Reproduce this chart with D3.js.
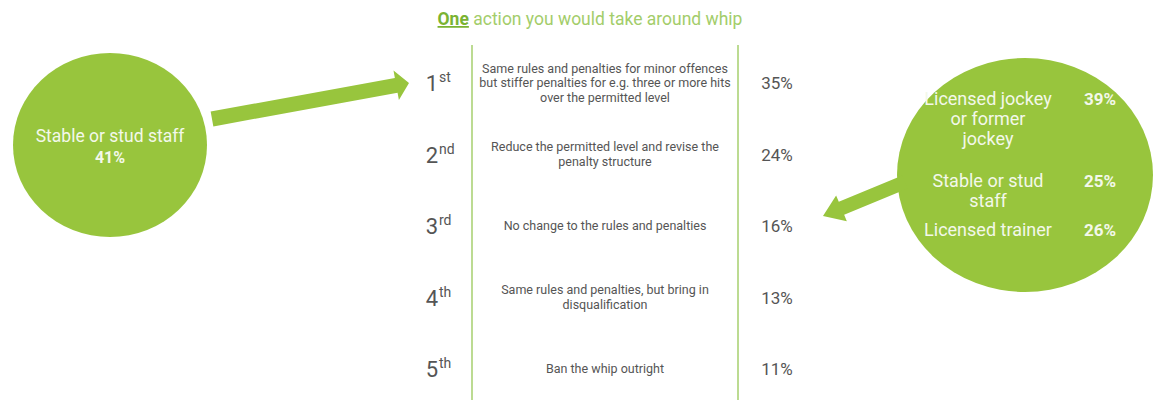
<!DOCTYPE html>
<html>
<head>
<meta charset="utf-8">
<script src="https://cdn.jsdelivr.net/npm/d3@7"></script>
<style>
  body { margin: 0; background: #fff; }
  text { font-family: Roboto, "Noto Sans", sans-serif; }
</style>
</head>
<body>
<div id="chart"></div>
<script>
// data
var ranks = ["1", "2", "3", "4", "5"];
var suffixes = ["st", "nd", "rd", "th", "th"];
var actions = [
  ["Same rules and penalties for minor offences", "but stiffer penalties for e.g. three or more hits", "over the permitted level"],
  ["Reduce the permitted level and revise the", "penalty structure"],
  ["No change to the rules and penalties"],
  ["Same rules and penalties, but bring in", "disqualification"],
  ["Ban the whip outright"]
];
var shares = [35, 24, 16, 13, 11];

var leftGroup = "Stable or stud staff";
var leftShare = 41;

var rightGroups = [["Licensed jockey", "or former", "jockey"], ["Stable or stud", "staff"], ["Licensed trainer"]];
var rightShares = [39, 25, 26];
var rightBaselines = [105, 187, 236];

var width = 1153, height = 400;
var green = "#98c53d", lineGreen = "#bcdb92", grey = "#555";

var svg = d3.select("#chart").append("svg")
    .attr("width", width)
    .attr("height", height);

// rows
var y = d3.scalePoint()
    .domain(ranks)
    .range([83, 369]);

var leftLine = 472, rightLine = 738;

// title
var title = svg.append("text")
    .attr("x", 590)
    .attr("y", 25)
    .attr("text-anchor", "middle")
    .style("font-size", "17.5px");
title.append("tspan")
    .text("One")
    .style("font-weight", "bold")
    .style("text-decoration", "underline")
    .style("fill", "#7ab332");
title.append("tspan")
    .text(" action you would take around whip")
    .style("fill", "#a3cd6a");

// the two vertical rules
svg.selectAll(".rule")
    .data([leftLine, rightLine])
  .enter().append("line")
    .attr("class", "rule")
    .attr("x1", function(d) { return d; })
    .attr("x2", function(d) { return d; })
    .attr("y1", 45)
    .attr("y2", height)
    .style("stroke", lineGreen)
    .style("stroke-width", 2);

var row = svg.selectAll(".row")
    .data(ranks)
  .enter().append("g")
    .attr("class", "row")
    .attr("transform", function(d) { return "translate(0," + y(d) + ")"; });

// rank number + superscript
row.append("text")
    .attr("x", 438)
    .attr("y", 8)
    .attr("text-anchor", "end")
    .style("font-size", "22px")
    .style("fill", grey)
    .text(function(d) { return d; });

row.append("text")
    .attr("x", 439)
    .attr("y", -1)
    .style("font-size", "14px")
    .style("fill", grey)
    .text(function(d, i) { return suffixes[i]; });

// action description
row.append("text")
    .attr("text-anchor", "middle")
    .style("font-size", "12.5px")
    .style("fill", grey)
    .each(function(d, i) {
      var lines = actions[i];
      var lh = 14.5;
      var top = -(lines.length - 1) * lh / 2 + 4;
      d3.select(this).selectAll("tspan")
          .data(lines)
        .enter().append("tspan")
          .attr("x", 605)
          .attr("y", function(l, j) { return top + j * lh; })
          .text(function(l) { return l; });
    });

// share
row.append("text")
    .attr("x", 777)
    .attr("y", 6)
    .attr("text-anchor", "middle")
    .style("font-size", "17px")
    .style("fill", grey)
    .text(function(d, i) { return shares[i] + "%"; });

// arrow polygon from a to b
function arrow(x0, y0, x1, y1, w, hl, hw) {
  var dx = x1 - x0, dy = y1 - y0, len = Math.sqrt(dx * dx + dy * dy);
  var ux = dx / len, uy = dy / len, nx = -uy, ny = ux;
  var bx = x1 - ux * hl, by = y1 - uy * hl;
  var pts = [
    [x0 + nx * w / 2, y0 + ny * w / 2],
    [bx + nx * w / 2, by + ny * w / 2],
    [bx + nx * hw, by + ny * hw],
    [x1, y1],
    [bx - nx * hw, by - ny * hw],
    [bx - nx * w / 2, by - ny * w / 2],
    [x0 - nx * w / 2, y0 - ny * w / 2]
  ];
  return "M" + pts.join("L") + "Z";
}

// left bubble
svg.append("ellipse")
    .attr("cx", 110)
    .attr("cy", 145)
    .attr("rx", 97)
    .attr("ry", 92)
    .style("fill", green);

svg.append("path")
    .attr("d", arrow(212, 119, 409, 83, 15, 13, 15))
    .style("fill", green);

svg.append("text")
    .attr("x", 110)
    .attr("y", 142)
    .attr("text-anchor", "middle")
    .style("font-size", "17.5px")
    .style("fill", "#f3f8ea")
    .text(leftGroup);

svg.append("text")
    .attr("x", 110)
    .attr("y", 163)
    .attr("text-anchor", "middle")
    .style("font-size", "16px")
    .style("font-weight", "bold")
    .style("fill", "#f3f8ea")
    .text(leftShare + "%");

// right bubble
svg.append("ellipse")
    .attr("cx", 1025)
    .attr("cy", 175)
    .attr("rx", 128)
    .attr("ry", 117)
    .style("fill", green);

svg.append("path")
    .attr("d", arrow(905, 182, 823, 216, 14, 20, 14))
    .style("fill", green);

var grp = svg.selectAll(".grp")
    .data(rightGroups)
  .enter().append("g")
    .attr("class", "grp");

grp.append("text")
    .attr("text-anchor", "middle")
    .style("font-size", "18px")
    .style("fill", "#f3f8ea")
    .each(function(d, i) {
      d3.select(this).selectAll("tspan")
          .data(d)
        .enter().append("tspan")
          .attr("x", 988)
          .attr("y", function(l, j) { return rightBaselines[i] + j * 20; })
          .text(function(l) { return l; });
    });

grp.append("text")
    .attr("x", 1100)
    .attr("y", function(d, i) { return rightBaselines[i]; })
    .attr("text-anchor", "middle")
    .style("font-size", "17px")
    .style("font-weight", "bold")
    .style("fill", "#f3f8ea")
    .text(function(d, i) { return rightShares[i] + "%"; });
</script>
</body>
</html>
